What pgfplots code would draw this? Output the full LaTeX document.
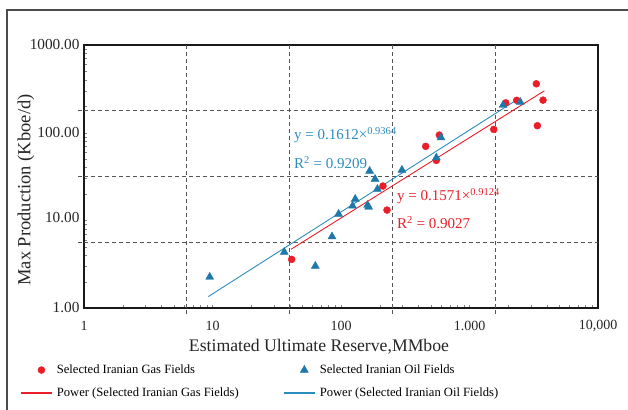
\documentclass[border=0pt]{standalone}
\usepackage{pgfplots}
\pgfplotsset{compat=1.18}
\usepackage{fontspec}
\setmainfont{Liberation Serif}
\definecolor{gasred}{RGB}{235,30,40}
\definecolor{oilblue}{RGB}{30,120,170}
\definecolor{eqblue}{RGB}{45,140,190}
\definecolor{gridgray}{RGB}{85,85,85}
\pgfplotsset{
 marklegend/.style={legend image code/.code={\draw[mark repeat=2,mark phase=2,##1] plot coordinates {(0bp,0bp)(20bp,0bp)(30bp,0bp)};\path (33bp,0bp);}},
 gaslegend/.style={legend image code/.code={\fill[gasred] (0bp,-0.5bp) rectangle (30bp,0.5bp);\path (33bp,0bp);}},
 oillegend/.style={legend image code/.code={\fill[eqblue] (0bp,-0.5bp) rectangle (30bp,0.5bp);\path (33bp,0bp);}},
}
\begin{document}
\begin{tikzpicture}[x=1bp,y=1bp]
\useasboundingbox (0,0) rectangle (628,409);
\draw[line width=1.6bp, black!70] (7,-30) -- (7,399) -- (660,399);
\begin{axis}[
  at={(84bp,101bp)}, anchor=south west,
  scale only axis, width=514bp, height=263bp,
  xmode=log, ymode=log,
  xmin=1, xmax=10000, ymin=1, ymax=1000,
  axis line style={line width=2bp, black!90},
  xtick={1,10,100,1000,10000},
  xticklabels={1,10,100,1.000,{10,000}},
  ytick={1,10,100,1000},
  yticklabels={1.00,\raisebox{5bp}{10.00},100.00,1000.00},
  minor tick num=0,
  major tick length=0pt,
  xtick pos=bottom, ytick pos=left,
  /pgf/number format/assume math mode=true,
  tick label style={font=\fontsize{14bp}{16bp}\selectfont, text=black!85},
  xticklabel style={anchor=center, yshift=-18bp},
  yticklabel style={anchor=east, xshift=-1bp, font=\fontsize{15.3bp}{17bp}\selectfont},
  extra x ticks={6.3096,39.811,251.19,1584.9},
  extra x tick labels={},
  extra y ticks={5.6234,31.623,177.83},
  extra y tick labels={},
  extra tick style={grid=major, major tick length=6bp, tick align=outside,
     tick style={gridgray, line width=1.1bp, dash pattern=on 4bp off 3bp}},
  major grid style={gridgray, line width=1.1bp, dash pattern=on 4bp off 3bp},
  clip=false,
  legend columns=2,
  legend cell align=left,
  legend style={draw=none, fill=none, inner sep=0pt, outer sep=0pt,
     at={(axis description cs:-0.1226,-0.2800)}, anchor=west,
     font=\fontsize{12.6bp}{14bp}\selectfont,
     row sep=9bp, column sep=0pt},
]
\addplot[only marks, mark=*, mark size=3.5bp, color=gasred, marklegend]
 coordinates {
 (41.3,3.59) (228,13.1) (212,24.6) (456,69.8) (582,93.9) (552,48.3)
 (1543,109) (1913,219) (2330,234) (3311,361) (3733,235) (3373,120)
 };
\addlegendentry{\makebox[225bp][l]{Selected Iranian Gas Fields}}
\addplot[only marks, mark=triangle*, mark size=4.6bp, color=oilblue, marklegend]
 coordinates {
 (9.51,2.26) (36.2,4.35) (63.1,3.01) (85.1,6.53) (95.7,11.8) (123,14.6)
 (129,17.5) (161,14.9) (164,14.2) (167,36.5) (184,29.6) (192,22.7)
 (298,37.5) (552,51.8) (600,87.9) (1823,206) (2485,223)
 };
\addlegendentry{Selected Iranian Oil Fields}
\addplot[color=gasred, line width=0.9bp, gaslegend]
 coordinates {(40.8,4.67) (3820,300)};
\addlegendentry{\makebox[225bp][l]{Power (Selected Iranian Gas Fields)}}
\addplot[color=eqblue, line width=0.9bp, oillegend]
 coordinates {(9.28,1.35) (2385,241.6)};
\addlegendentry{Power (Selected Iranian Oil Fields)}
\end{axis}
\node[anchor=center, font=\fontsize{17.7bp}{20bp}\selectfont, text=black!85] at (319,62) {Estimated Ultimate Reserve,MMboe};
\node[anchor=center, rotate=90, font=\fontsize{18.5bp}{20bp}\selectfont, text=black!85] at (26,219) {Max Production (Kboe/d)};
\begin{scope}[every node/.style={anchor=west, inner sep=0pt, font=\fontsize{15bp}{17bp}\selectfont}]
\node[text=eqblue] at (294,274) {y = 0.1612×\textsuperscript{0.9364}};
\node[text=eqblue] at (294,246) {R\textsuperscript{2} = 0.9209};
\node[text=gasred] at (397,213) {y = 0.1571×\textsuperscript{0.9124}};
\node[text=gasred] at (397,186) {R\textsuperscript{2} = 0.9027};
\end{scope}
\end{tikzpicture}
\end{document}
